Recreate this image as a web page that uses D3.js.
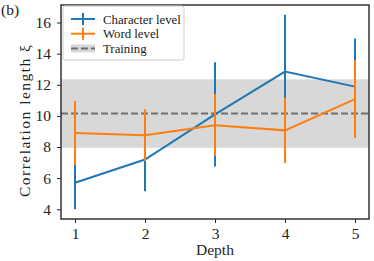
<!DOCTYPE html>
<html>
<head>
<meta charset="utf-8">
<script src="https://cdn.jsdelivr.net/npm/d3@7"></script>
<style>
  body { margin: 0; background: #fff; }
  svg text { font-family: "Liberation Serif", "DejaVu Serif", serif; fill: #222; }
</style>
</head>
<body>
<svg id="chart" width="374" height="261"></svg>
<script>
// depth levels on the x axis
var depths = [1, 2, 3, 4, 5];

// character level: mean and error
var charMean = [5.7, 7.2, 10.1, 12.85, 11.88];
var charErr = [1.7, 2.05, 3.35, 3.65, 3.1];

// word level: mean and error
var wordMean = [8.9, 8.76, 9.4, 9.07, 11.08];
var wordErr = [2.05, 1.66, 2.0, 2.1, 2.5];

// training reference
var trainMean = 10.15;
var trainErr = 2.2;

var yTicks = [4, 6, 8, 10, 12, 14, 16];

var svg = d3.select("#chart"),
    margin = { left: 61, right: 5, top: 5, bottom: 42 },
    width = 374 - margin.left - margin.right,
    height = 261 - margin.top - margin.bottom;

var x = d3.scaleLinear().domain([0.8, 5.2]).range([margin.left, margin.left + width]);
var y = d3.scaleLinear().domain([3.375, 17.125]).range([margin.top + height, margin.top]);

var plot = svg.append("g");

// training band
plot.append("rect")
    .attr("x", margin.left)
    .attr("width", width)
    .attr("y", y(trainMean + trainErr))
    .attr("height", y(trainMean - trainErr) - y(trainMean + trainErr))
    .attr("fill", "#d8d8d8");

plot.append("line")
    .attr("x1", margin.left).attr("x2", margin.left + width)
    .attr("y1", y(trainMean)).attr("y2", y(trainMean))
    .attr("stroke", "#6f6f6f")
    .attr("stroke-width", 2)
    .attr("stroke-dasharray", "7,3");

function series(means, errs, color) {
    var pts = depths.map(function (d, i) { return { x: d, m: means[i], e: errs[i] }; });
    var line = d3.line().x(function (d) { return x(d.x); }).y(function (d) { return y(d.m); });

    plot.append("path")
        .datum(pts)
        .attr("d", line)
        .attr("fill", "none")
        .attr("stroke", color)
        .attr("stroke-width", 2);

    plot.selectAll(null)
        .data(pts)
        .enter()
        .append("line")
        .attr("x1", function (d) { return x(d.x); })
        .attr("x2", function (d) { return x(d.x); })
        .attr("y1", function (d) { return y(d.m - d.e); })
        .attr("y2", function (d) { return y(d.m + d.e); })
        .attr("stroke", color)
        .attr("stroke-width", 2);
}

series(charMean, charErr, "#1f77b4");
series(wordMean, wordErr, "#ff7f0e");

// axes
var xAxis = svg.append("g")
    .attr("transform", "translate(0," + (margin.top + height) + ")")
    .call(d3.axisBottom(x).tickValues(depths).tickFormat(d3.format("d")).tickSize(4).tickPadding(5));

var yAxis = svg.append("g")
    .attr("transform", "translate(" + margin.left + ",0)")
    .call(d3.axisLeft(y).tickValues(yTicks).tickSize(4).tickPadding(6));

[xAxis, yAxis].forEach(function (a) {
    a.selectAll("text").attr("font-size", 15.5).attr("font-family", null);
    a.selectAll(".tick line").attr("stroke", "#222");
    a.select(".domain").remove();
});

// frame
svg.append("rect")
    .attr("x", margin.left).attr("y", margin.top)
    .attr("width", width).attr("height", height)
    .attr("fill", "none")
    .attr("stroke", "#333")
    .attr("stroke-width", 1.5);

// labels
svg.append("text")
    .attr("x", x(3))
    .attr("y", 255)
    .attr("text-anchor", "middle")
    .attr("font-size", 15.5)
    .text("Depth");

svg.append("text")
    .attr("transform", "translate(30," + 121 + ") rotate(-90)")
    .attr("text-anchor", "middle")
    .attr("font-size", 15.5)
    .attr("textLength", 152)
    .attr("lengthAdjust", "spacing")
    .text("Correlation length ξ");

svg.append("text")
    .attr("x", 1).attr("y", 15)
    .attr("font-size", 15.5)
    .text("(b)");

// legend
var legendItems = [
    { label: "Character level", color: "#1f77b4", type: "err" },
    { label: "Word level", color: "#ff7f0e", type: "err" },
    { label: "Training", color: "#6f6f6f", type: "train" }
];

var legend = svg.append("g").attr("transform", "translate(63,6)");

legend.append("rect")
    .attr("width", 121).attr("height", 54)
    .attr("rx", 2)
    .attr("fill", "#fff")
    .attr("fill-opacity", 0.85)
    .attr("stroke", "#ccc");

var rows = legend.selectAll("g.row")
    .data(legendItems)
    .enter()
    .append("g")
    .attr("class", "row")
    .attr("transform", function (d, i) { return "translate(0," + (13 + i * 14.7) + ")"; });

rows.filter(function (d) { return d.type === "train"; })
    .append("rect")
    .attr("x", 8).attr("y", -4).attr("width", 24).attr("height", 8)
    .attr("fill", "#d8d8d8");

rows.append("line")
    .attr("x1", 8).attr("x2", 32)
    .attr("stroke", function (d) { return d.color; })
    .attr("stroke-width", 2)
    .attr("stroke-dasharray", function (d) { return d.type === "train" ? "7,3" : null; });

rows.filter(function (d) { return d.type === "err"; })
    .append("line")
    .attr("x1", 20).attr("x2", 20).attr("y1", -6).attr("y2", 6)
    .attr("stroke", function (d) { return d.color; })
    .attr("stroke-width", 2);

rows.append("text")
    .attr("x", 40).attr("y", 4.5)
    .attr("font-size", 12.8)
    .text(function (d) { return d.label; });
</script>
</body>
</html>
